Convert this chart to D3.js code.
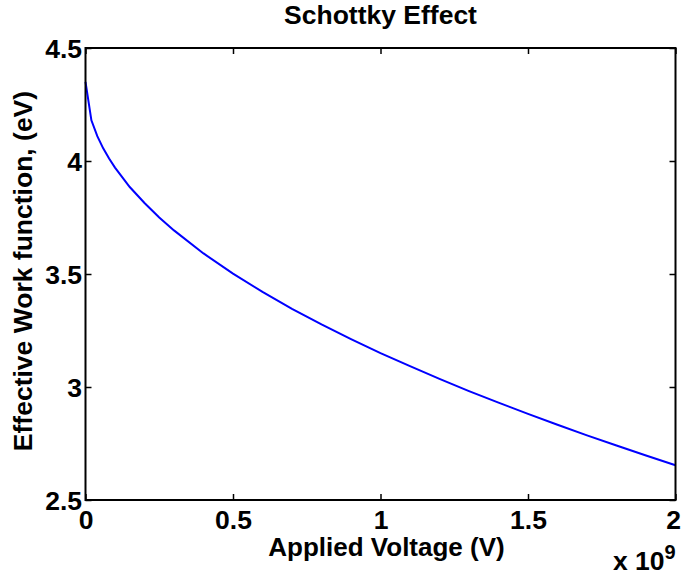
<!DOCTYPE html>
<html><head><meta charset="utf-8">
<script src="https://cdn.jsdelivr.net/npm/d3@7"></script>
<style>body{margin:0;background:#fff}text{font-family:"Liberation Sans",Arial,Helvetica,sans-serif;font-weight:bold;fill:#000}</style>
</head><body><svg id="c" width="681" height="579"></svg>
<script>
const titleText = "Schottky Effect";
const xLabel = "Applied Voltage (V)";
const yLabel = "Effective Work function, (eV)";
const xTicks = [0, 0.5, 1, 1.5, 2];
const yTicks = [2.5, 3, 3.5, 4, 4.5];
// Applied voltage, in units of 1e9
const voltage = [0, 0.02, 0.04, 0.06, 0.08, 0.1, 0.15, 0.2, 0.25, 0.3, 0.4, 0.5, 0.6, 0.7, 0.8, 0.9, 1.0, 1.1, 1.2, 1.3, 1.4, 1.5, 1.6, 1.7, 1.8, 1.9, 2.0];
// Effective work function (eV)
const workFn = [4.35, 4.18, 4.11, 4.056, 4.011, 3.971, 3.885, 3.814, 3.75, 3.693, 3.591, 3.502, 3.421, 3.346, 3.277, 3.212, 3.15, 3.092, 3.036, 2.982, 2.931, 2.881, 2.833, 2.786, 2.741, 2.697, 2.654];

const svg = d3.select("#c");
const L = 85.5, R = 675.5, T = 48, B = 500;
const fs = 26.5;
const x = d3.scaleLinear().domain([0, 2]).range([L, R]);
const y = d3.scaleLinear().domain([2.5, 4.5]).range([B, T]);

// curve
const line = d3.line().x((d, i) => x(voltage[i])).y(d => y(d));
svg.append("path").datum(workFn).attr("d", line)
  .attr("fill", "none").attr("stroke", "#0000ff").attr("stroke-width", 2);

// axes with inward ticks
const tickLen = 6;
const gB = svg.append("g").attr("transform", `translate(0,${B})`)
  .call(d3.axisBottom(x).tickValues(xTicks).tickSizeInner(-tickLen).tickSizeOuter(0).tickPadding(0).tickFormat(d3.format("~g")));
const gT = svg.append("g").attr("transform", `translate(0,${T})`)
  .call(d3.axisTop(x).tickValues(xTicks).tickSizeInner(-tickLen).tickSizeOuter(0).tickFormat(""));
const gL = svg.append("g").attr("transform", `translate(${L},0)`)
  .call(d3.axisLeft(y).tickValues(yTicks).tickSizeInner(-tickLen).tickSizeOuter(0).tickPadding(0).tickFormat(d3.format("~g")));
const gR = svg.append("g").attr("transform", `translate(${R},0)`)
  .call(d3.axisRight(y).tickValues(yTicks).tickSizeInner(-tickLen).tickSizeOuter(0).tickFormat(""));
[gB, gT, gL, gR].forEach(g => {
  g.select(".domain").remove();
  g.selectAll(".tick line").attr("stroke", "#000").attr("stroke-width", 1.5);
});
gB.selectAll(".tick text").attr("y", 29).attr("dy", null).style("font-size", fs + "px")
  .attr("x", d => d === 2 ? -2.5 : 0);
gL.selectAll(".tick text").attr("x", -3.5).attr("dy", "0.36em").style("font-size", fs + "px");

// box
svg.append("rect").attr("x", L).attr("y", T).attr("width", R - L).attr("height", B - T)
  .attr("fill", "none").attr("stroke", "#000").attr("stroke-width", 2);

// title and labels
svg.append("text").attr("x", (L + R) / 2).attr("y", 24).attr("text-anchor", "middle")
  .style("font-size", fs + "px").text(titleText);
svg.append("text").attr("x", (L + R) / 2 + 6).attr("y", 556).attr("text-anchor", "middle")
  .style("font-size", "26px").text(xLabel);
svg.append("text").attr("transform", `translate(31.5,${(T + B) / 2 - 3}) rotate(-90)`)
  .attr("text-anchor", "middle").style("font-size", fs + "px").text(yLabel);
const ex = svg.append("text").attr("x", 613).attr("y", 570).style("font-size", fs + "px");
ex.append("tspan").text("x 10");
ex.append("tspan").attr("dy", -11).style("font-size", "20px").text("9");
</script></body></html>
